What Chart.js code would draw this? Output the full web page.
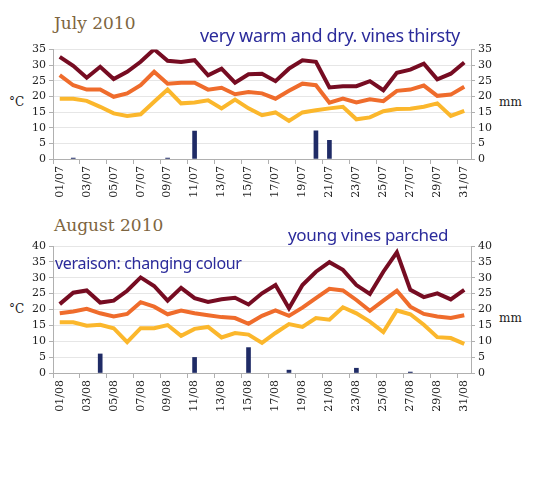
<!DOCTYPE html>
<html>
<head>
<meta charset="utf-8">
<script src="https://cdn.jsdelivr.net/npm/chart.js@4.4.1/dist/chart.umd.min.js"></script>
<style>
  html, body { margin: 0; padding: 0; background: #fff; }
  body { width: 536px; height: 487px; position: relative; overflow: hidden; }
  .title { position: absolute; font-family: "DejaVu Serif", serif; color: #7d6540; font-size: 17px; white-space: nowrap; }
  .note { position: absolute; z-index: 2; font-family: "Noto Sans", sans-serif; color: #2b2b9b; font-size: 18px; white-space: nowrap; letter-spacing: -0.3px; }
  .unit { position: absolute; font-family: "DejaVu Serif", serif; color: #222; font-size: 12px; }
  canvas { position: absolute; left: 0; z-index: 1; }
</style>
</head>
<body>
<div class="title" style="left:54px;top:13px">July 2010</div>
<div class="note" style="left:200px;top:23px">very warm and dry. vines thirsty</div>
<div class="unit" style="left:9px;top:95px">°C</div>
<div class="unit" style="left:499px;top:95px">mm</div>
<canvas id="july" style="top:40px"></canvas>

<div class="title" style="left:54px;top:215px">August 2010</div>
<div class="note" style="left:288px;top:223px;font-size:17px">young vines parched</div>
<div class="note" style="left:55px;top:252px;font-size:16px">veraison: changing colour</div>
<div class="unit" style="left:9px;top:302px">°C</div>
<div class="unit" style="left:499px;top:311px">mm</div>
<canvas id="august" style="top:236px"></canvas>

<script>
// Juillet / août 2010 : températures (°C) et pluie (mm)
const julyLabels = ['01/07', '02/07', '03/07', '04/07', '05/07', '06/07', '07/07', '08/07', '09/07', '10/07',
  '11/07', '12/07', '13/07', '14/07', '15/07', '16/07', '17/07', '18/07', '19/07', '20/07',
  '21/07', '22/07', '23/07', '24/07', '25/07', '26/07', '27/07', '28/07', '29/07', '30/07', '31/07'];
const julyMax = [32.7, 29.8, 26.0, 29.5, 25.6, 27.9, 31.1, 35.1, 31.4, 31.0, 31.6, 26.8, 28.9, 24.4, 27.1, 27.3,
  24.9, 28.9, 31.6, 31.1, 22.9, 23.3, 23.3, 24.9, 22.0, 27.6, 28.6, 30.5, 25.5, 27.3, 30.9];
const julyMean = [26.8, 23.6, 22.2, 22.2, 19.9, 21.0, 23.6, 27.9, 24.1, 24.4, 24.4, 22.2, 22.8, 20.7, 21.4, 21.0,
  19.3, 21.8, 24.1, 23.6, 18.0, 19.3, 18.1, 19.1, 18.5, 21.8, 22.2, 23.5, 20.2, 20.6, 23.1];
const julyMin = [19.3, 19.3, 18.6, 16.7, 14.6, 13.8, 14.3, 18.3, 22.2, 17.8, 18.1, 18.8, 16.2, 19.0, 16.2, 14.0,
  14.9, 12.2, 14.9, 15.6, 16.2, 16.7, 12.7, 13.3, 15.3, 16.0, 16.1, 16.7, 17.8, 13.8, 15.4];
const julyRain = [0, 0.3, 0, 0, 0, 0, 0, 0, 0.3, 0, 8.9, 0, 0, 0, 0, 0,
  0, 0, 0, 9.0, 6.0, 0, 0, 0, 0, 0, 0, 0, 0, 0, 0];

const augLabels = ['01/08', '02/08', '03/08', '04/08', '05/08', '06/08', '07/08', '08/08', '09/08', '10/08',
  '11/08', '12/08', '13/08', '14/08', '15/08', '16/08', '17/08', '18/08', '19/08', '20/08',
  '21/08', '22/08', '23/08', '24/08', '25/08', '26/08', '27/08', '28/08', '29/08', '30/08', '31/08'];
const augMax = [21.7, 25.3, 26.0, 22.2, 22.8, 25.9, 30.1, 27.4, 22.8, 26.8, 23.6, 22.4, 23.2, 23.7, 21.6, 25.1,
  27.7, 20.4, 27.7, 31.9, 34.9, 32.5, 27.7, 24.9, 31.9, 38.0, 26.2, 23.9, 25.1, 23.2, 26.2];
const augMean = [18.8, 19.4, 20.2, 18.8, 17.8, 18.6, 22.3, 20.9, 18.5, 19.7, 18.8, 18.2, 17.6, 17.3, 15.5, 18.0,
  19.7, 18.0, 20.6, 23.6, 26.5, 26.0, 23.0, 19.6, 22.8, 25.9, 20.9, 18.6, 17.8, 17.3, 18.2];
const augMin = [16.0, 16.0, 14.9, 15.2, 14.1, 9.7, 14.1, 14.1, 15.1, 11.7, 13.9, 14.5, 11.2, 12.6, 12.1, 9.5,
  12.6, 15.4, 14.5, 17.3, 16.8, 20.7, 18.8, 16.2, 12.9, 19.7, 18.5, 15.2, 11.3, 11.0, 9.2];
const augRain = [0, 0, 0, 6.0, 0, 0, 0, 0, 0, 0, 4.9, 0, 0, 0, 8.0, 0,
  0, 0.9, 0, 0, 0, 0, 1.5, 0, 0, 0, 0.3, 0, 0, 0, 0];

const tickFont = { family: 'DejaVu Serif', size: 11 };

function makeChart(id, h, padTop, xHeight, labels, tMax, tMean, tMin, rain, top) {
  const canvas = document.getElementById(id);
  canvas.width = 536;
  canvas.style.width = '536px';
  canvas.style.height = h + 'px';

  const line = (data, color) => ({
    type: 'line', data, borderColor: color, borderWidth: 4, pointRadius: 0,
    tension: 0, fill: false, yAxisID: 'y', order: 1
  });

  return new Chart(canvas, {
    data: {
      labels,
      datasets: [
        line(tMax, '#760c22'),
        line(tMean, '#ef6c2c'),
        line(tMin, '#fbb72c'),
        // dry days drawn as gaps, not as flat slivers
        { type: 'bar', data: rain.map(v => (v > 0 ? v : null)), backgroundColor: '#1f2b66',
          barThickness: 4, yAxisID: 'y1', order: 2 }
      ]
    },
    options: {
      responsive: false,
      animation: false,
      layout: { padding: { top: padTop, left: 0, right: 0, bottom: 0 } },
      plugins: { legend: { display: false }, tooltip: { enabled: false } },
      scales: {
        x: {
          offset: true,
          grid: {
            offset: true, drawOnChartArea: false, tickLength: 5,
            tickColor: ctx => (ctx.index % 2 === 0 ? '#b0b0b0' : 'rgba(0,0,0,0)')
          },
          border: { color: '#b0b0b0' },
          ticks: {
            autoSkip: false, minRotation: 90, maxRotation: 90, padding: 2,
            color: '#222', font: tickFont,
            callback: (v, i) => (i % 2 === 0 ? labels[i] : '')
          },
          afterFit: s => { s.height = xHeight; }
        },
        y: {
          position: 'left', min: 0, max: top,
          ticks: { stepSize: 5, autoSkip: false, color: '#222', font: tickFont, padding: 3 },
          grid: { color: '#e6e6e6', tickLength: 4, tickColor: '#b0b0b0' },
          border: { color: '#b0b0b0' },
          afterFit: s => { s.width = 53; }
        },
        y1: {
          position: 'right', min: 0, max: top,
          ticks: { stepSize: 5, autoSkip: false, color: '#222', font: tickFont, padding: 3 },
          grid: { drawOnChartArea: false, tickLength: 4, tickColor: '#b0b0b0' },
          border: { color: '#b0b0b0' },
          afterFit: s => { s.width = 65; }
        }
      }
    }
  });
}

makeChart('july', 165, 9, 46, julyLabels, julyMax, julyMean, julyMin, julyRain, 35);
makeChart('august', 180, 10, 43, augLabels, augMax, augMean, augMin, augRain, 40);
</script>
</body>
</html>
